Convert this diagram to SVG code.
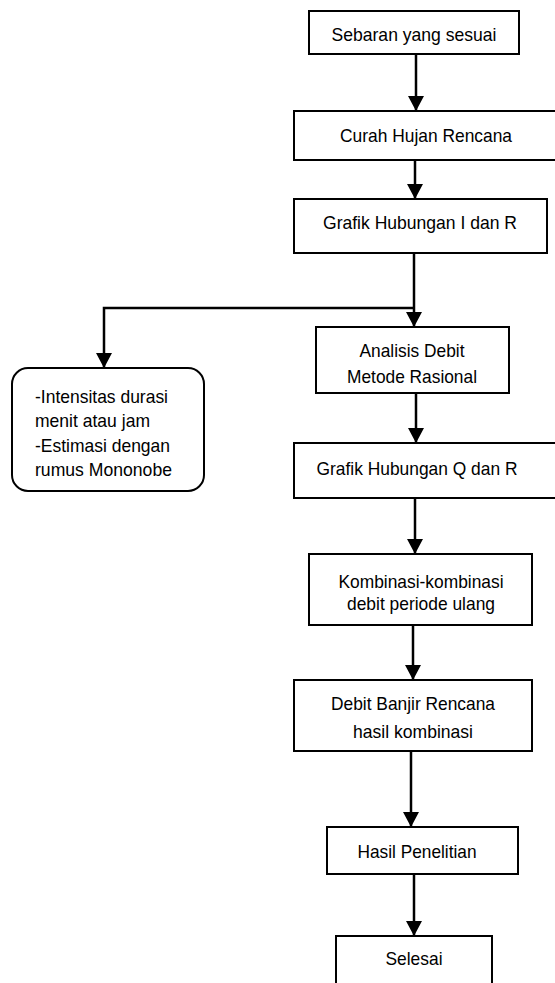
<svg xmlns="http://www.w3.org/2000/svg" width="555" height="983" viewBox="0 0 555 983">
<style>
.box{fill:#fff;stroke:#000;stroke-width:2}
.t{font-family:"Liberation Sans",Arial,sans-serif;font-size:18.5px;fill:#000;text-anchor:middle}
.tl{font-family:"Liberation Sans",Arial,sans-serif;font-size:18.5px;fill:#000}
.c{fill:none;stroke:#000;stroke-width:2.5}
</style>
<defs>
<marker id="ah" markerUnits="userSpaceOnUse" markerWidth="16" markerHeight="16" refX="15" refY="8" orient="auto">
<path d="M0,0 L15,8 L0,16 z" fill="#000"/>
</marker>
</defs>
<rect width="555" height="983" fill="#fff"/>
<g id="connectors">
<line class="c" x1="416" y1="54" x2="416" y2="111" marker-end="url(#ah)"/>
<line class="c" x1="415" y1="160" x2="415" y2="199" marker-end="url(#ah)"/>
<line class="c" x1="414" y1="253" x2="414" y2="327" marker-end="url(#ah)"/>
<polyline class="c" points="414,308 104,308 104,368" marker-end="url(#ah)"/>
<line class="c" x1="416" y1="393" x2="416" y2="443" marker-end="url(#ah)"/>
<line class="c" x1="415" y1="498" x2="415" y2="554" marker-end="url(#ah)"/>
<line class="c" x1="413" y1="625" x2="413" y2="680" marker-end="url(#ah)"/>
<line class="c" x1="411" y1="751" x2="411" y2="827" marker-end="url(#ah)"/>
<line class="c" x1="414" y1="874" x2="414" y2="936" marker-end="url(#ah)"/>
</g>
<g id="n1"><rect class="box" x="309" y="11" width="210" height="43"/><text class="t" x="414" y="41" textLength="165" lengthAdjust="spacingAndGlyphs">Sebaran yang sesuai</text></g>
<g id="n2"><rect class="box" x="294" y="111" width="270" height="49"/><text class="t" x="426" y="142" textLength="172" lengthAdjust="spacingAndGlyphs">Curah Hujan Rencana</text></g>
<g id="n3"><rect class="box" x="294" y="199" width="253" height="54"/><text class="t" x="420" y="229" textLength="194" lengthAdjust="spacingAndGlyphs">Grafik Hubungan I dan R</text></g>
<g id="n4"><rect class="box" x="12" y="368" width="192" height="123" rx="16" ry="16"/>
<text class="tl" x="35" y="403" textLength="133" lengthAdjust="spacingAndGlyphs">-Intensitas durasi</text>
<text class="tl" x="35" y="427" textLength="115" lengthAdjust="spacingAndGlyphs">menit atau jam</text>
<text class="tl" x="35" y="452" textLength="135" lengthAdjust="spacingAndGlyphs">-Estimasi dengan</text>
<text class="tl" x="35" y="476" textLength="137" lengthAdjust="spacingAndGlyphs">rumus Mononobe</text></g>
<g id="n5"><rect class="box" x="316" y="327" width="193" height="66"/><text class="t" x="412" y="357" textLength="105" lengthAdjust="spacingAndGlyphs">Analisis Debit</text><text class="t" x="412" y="383" textLength="130" lengthAdjust="spacingAndGlyphs">Metode Rasional</text></g>
<g id="n6"><rect class="box" x="294" y="443" width="270" height="55"/><text class="t" x="417" y="475" textLength="201" lengthAdjust="spacingAndGlyphs">Grafik Hubungan Q dan R</text></g>
<g id="n7"><rect class="box" x="309" y="554" width="223" height="71"/><text class="t" x="421" y="588" textLength="165" lengthAdjust="spacingAndGlyphs">Kombinasi-kombinasi</text><text class="t" x="421" y="610" textLength="148" lengthAdjust="spacingAndGlyphs">debit periode ulang</text></g>
<g id="n8"><rect class="box" x="294" y="680" width="238" height="71"/><text class="t" x="413" y="710" textLength="164" lengthAdjust="spacingAndGlyphs">Debit Banjir Rencana</text><text class="t" x="413" y="738" textLength="120" lengthAdjust="spacingAndGlyphs">hasil kombinasi</text></g>
<g id="n9"><rect class="box" x="327" y="827" width="191" height="47"/><text class="t" x="417" y="858" textLength="119" lengthAdjust="spacingAndGlyphs">Hasil Penelitian</text></g>
<g id="n10"><rect class="box" x="336" y="936" width="156" height="60"/><text class="t" x="414" y="965" textLength="57" lengthAdjust="spacingAndGlyphs">Selesai</text></g>
</svg>
